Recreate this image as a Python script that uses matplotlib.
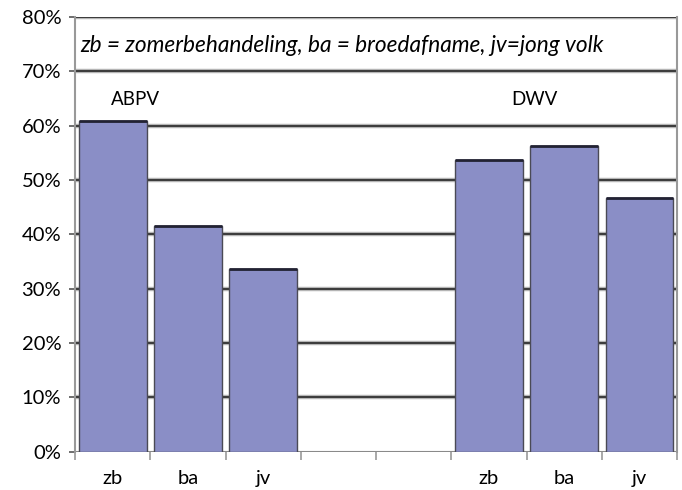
import matplotlib.pyplot as plt
import numpy as np

# waarden (fractie van volken)
categorieen = ["zb", "ba", "jv", "", "", "zb", "ba", "jv"]
waarden = [0.608, 0.415, 0.336, 0.0, 0.0, 0.537, 0.562, 0.467]
yticks = [0.0, 0.1, 0.2, 0.3, 0.4, 0.5, 0.6, 0.7, 0.8]
ytick_labels = ["0%", "10%", "20%", "30%", "40%", "50%", "60%", "70%", "80%"]

plt.rcParams["font.family"] = ["Lato", "DejaVu Sans"]

fig = plt.figure(figsize=(6.82, 4.9), dpi=100)
ax = fig.add_axes([0.11, 0.078, 0.883, 0.887])

x = np.arange(len(categorieen))
# alleen echte balken tekenen (lege plekken overslaan)
mask = np.array([c != "" for c in categorieen])
ax.bar(x[mask], np.array(waarden)[mask], width=0.9, color="#8a8ec6",
       edgecolor="#4a4a55", linewidth=1.0, zorder=3)
# donkere bovenrand van de balken
ax.hlines(np.array(waarden)[mask], x[mask] - 0.45, x[mask] + 0.45,
          color="#222233", linewidth=2.0, zorder=4)

ax.set_xlim(-0.5, len(categorieen) - 0.5)
ax.set_ylim(0, 0.8)

# rasterlijnen
for y in yticks[1:]:
    ax.axhline(y, color="#b5b5b5", linewidth=3.2, zorder=1)
    ax.axhline(y, color="#3a3a3a", linewidth=1.4, zorder=2)
ax.axhline(0, color="#8a8a8a", linewidth=1.5, zorder=2)

ax.set_yticks(yticks)
ax.set_yticklabels(ytick_labels, fontsize=14.5)
ax.set_xticks(x)
ax.set_xticklabels(categorieen, fontsize=14.5)
ax.set_xticks(np.arange(-0.5, len(categorieen) + 0.5, 1), minor=True)
ax.tick_params(axis="x", which="major", length=0, pad=13)
ax.tick_params(axis="x", which="minor", length=6, color="#999999", width=1.2)
ax.tick_params(axis="y", length=4, color="#555555", width=1.2, pad=6)

for side in ["top", "bottom"]:
    ax.spines[side].set_visible(False)
ax.spines["left"].set_color("#999999")
ax.spines["left"].set_linewidth(1.5)
ax.spines["right"].set_color("#999999")
ax.spines["right"].set_linewidth(1.5)

ax.text(-0.43, 0.748, "zb = zomerbehandeling, ba = broedafname, jv=jong volk",
        fontsize=16.3, style="italic", va="center", ha="left", zorder=5)
ax.text(0.31, 0.649, "ABPV", fontsize=13.5, va="center", ha="center", zorder=5)
ax.text(5.6, 0.649, "DWV", fontsize=13.5, va="center", ha="center", zorder=5)

plt.savefig("out.png", dpi=100)
plt.close()
